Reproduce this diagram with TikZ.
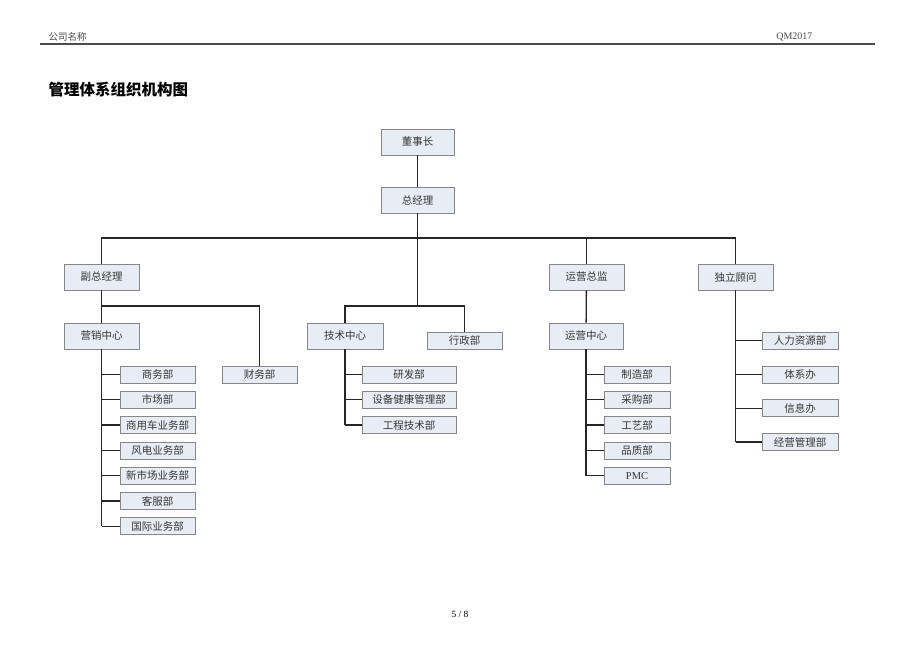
\documentclass[tikz,border=0pt]{standalone}
\usepackage{fontspec}
\setmainfont{Liberation Serif}
\newfontfamily\cjk{Noto Sans CJK SC}
\definecolor{boxfill}{RGB}{232,236,244}
\definecolor{boxline}{RGB}{135,135,135}
\definecolor{inktext}{RGB}{55,55,55}
\tikzset{
	unit/.style={draw=boxline,fill=boxfill,line width=0.8pt,minimum width=75pt,minimum height=26pt,inner sep=0pt,font=\cjk\fontsize{10.5}{12}\selectfont,text=inktext},
	dept/.style={unit,minimum height=17pt},
	link/.style={line width=1.3pt,black!85}
}
\begin{document}
\begin{tikzpicture}[x=1pt,y=-1pt]
	\useasboundingbox[fill=white](0,0) rectangle (920,651);
	% page header
	\node[anchor=west,text=black!70,font=\cjk\fontsize{9.5}{11}\selectfont] (firm) at(45,37){公司名称};
	\node[anchor=east,text=black!70,font=\fontsize{10}{12}\selectfont] (docno) at(816,37){QM2017};
	\coordinate (hl) at(40,44);
	\coordinate (hr) at(875,44);
	\draw[line width=1.4pt,black!70](hl)--(hr);
	\node[anchor=west,font=\cjk\bfseries\fontsize{15.5}{18}\selectfont] (title) at(45,90){管理体系组织机构图};
	% top levels
	\node[unit,minimum width=73pt] (dsz) at(417.5,142){董事长};
	\node[unit,minimum width=73pt] (zjl) at(417.5,200){总经理};
	\node[unit] (fzjl) at(101.5,277){副总经理};
	\node[unit] (yyzj) at(586.5,277){运营总监};
	\node[unit] (dlgw) at(735.5,277){独立顾问};
	\node[unit] (yxzx) at(101.5,336){营销中心};
	\node[unit,minimum width=76pt] (jszx) at(345,336){技术中心};
	\node[unit,minimum width=74pt] (yyzx) at(586,336){运营中心};
	\node[dept] (cwb) at(259.5,374.5){财务部};
	\node[dept] (xzb) at(464.5,340.5){行政部};
	\coordinate (bus) at(417.5,238);
	\coordinate (midbus) at(417.5,306);
	\draw[link](dsz)--(zjl);
	\draw[link](fzjl.north)--(fzjl.north|-bus)--(dlgw.north|-bus)--(dlgw.north);
	\draw[link](yyzj.north)--(yyzj.north|-bus);
	\draw[link](zjl.south)--(midbus);
	\draw[link](jszx.north)|-(midbus)-|(xzb.north);
	\draw[link](fzjl)--(yxzx);
	\draw[link](fzjl.south|-midbus)-|(cwb.north);
	\draw[link](yyzj)--(yyzx);
	% marketing
	\foreach \name/\txt [count=\i from 0] in {sw/商务部,sc/市场部,syc/商用车业务部,fd/风电业务部,xsc/新市场业务部,kf/客服部,gj/国际业务部}{
		\node[dept] (\name) at(157.5,374.5+25.3*\i){\txt};
		\draw[link](yxzx.south|-\name.west)--(\name.west);
	}
	\draw[link](yxzx.south)--(yxzx.south|-gj.west);
	% technology
	\foreach \name/\txt [count=\i from 0] in {yf/研发部,sb/设备健康管理部,gc/工程技术部}{
		\node[dept,minimum width=94pt] (\name) at(409,374.5+25.3*\i){\txt};
		\draw[link](jszx.south|-\name.west)--(\name.west);
	}
	\draw[link](jszx.south)--(jszx.south|-gc.west);
	% operations
	\foreach \name/\txt [count=\i from 0] in {zz/制造部,cg/采购部,gy/工艺部,pz/品质部,pmc/{\rmfamily PMC}}{
		\node[dept,minimum width=66pt] (\name) at(637,374.5+25.3*\i){\txt};
		\draw[link](yyzx.south|-\name.west)--(\name.west);
	}
	\draw[link](yyzx.south)--(yyzx.south|-pmc.west);
	% advisers
	\foreach \name/\txt/\y in {rl/人力资源部/340.5,tx/体系办/374.5,xx/信息办/408.2,jy/经营管理部/442}{
		\node[dept,minimum width=76pt] (\name) at(800,\y){\txt};
		\draw[link](dlgw.south|-\name.west)--(\name.west);
	}
	\draw[link](dlgw.south)--(dlgw.south|-jy.west);
	\node[font=\fontsize{9.5}{11}\selectfont] (page) at(460,614){5 / 8};
\end{tikzpicture}
\end{document}
